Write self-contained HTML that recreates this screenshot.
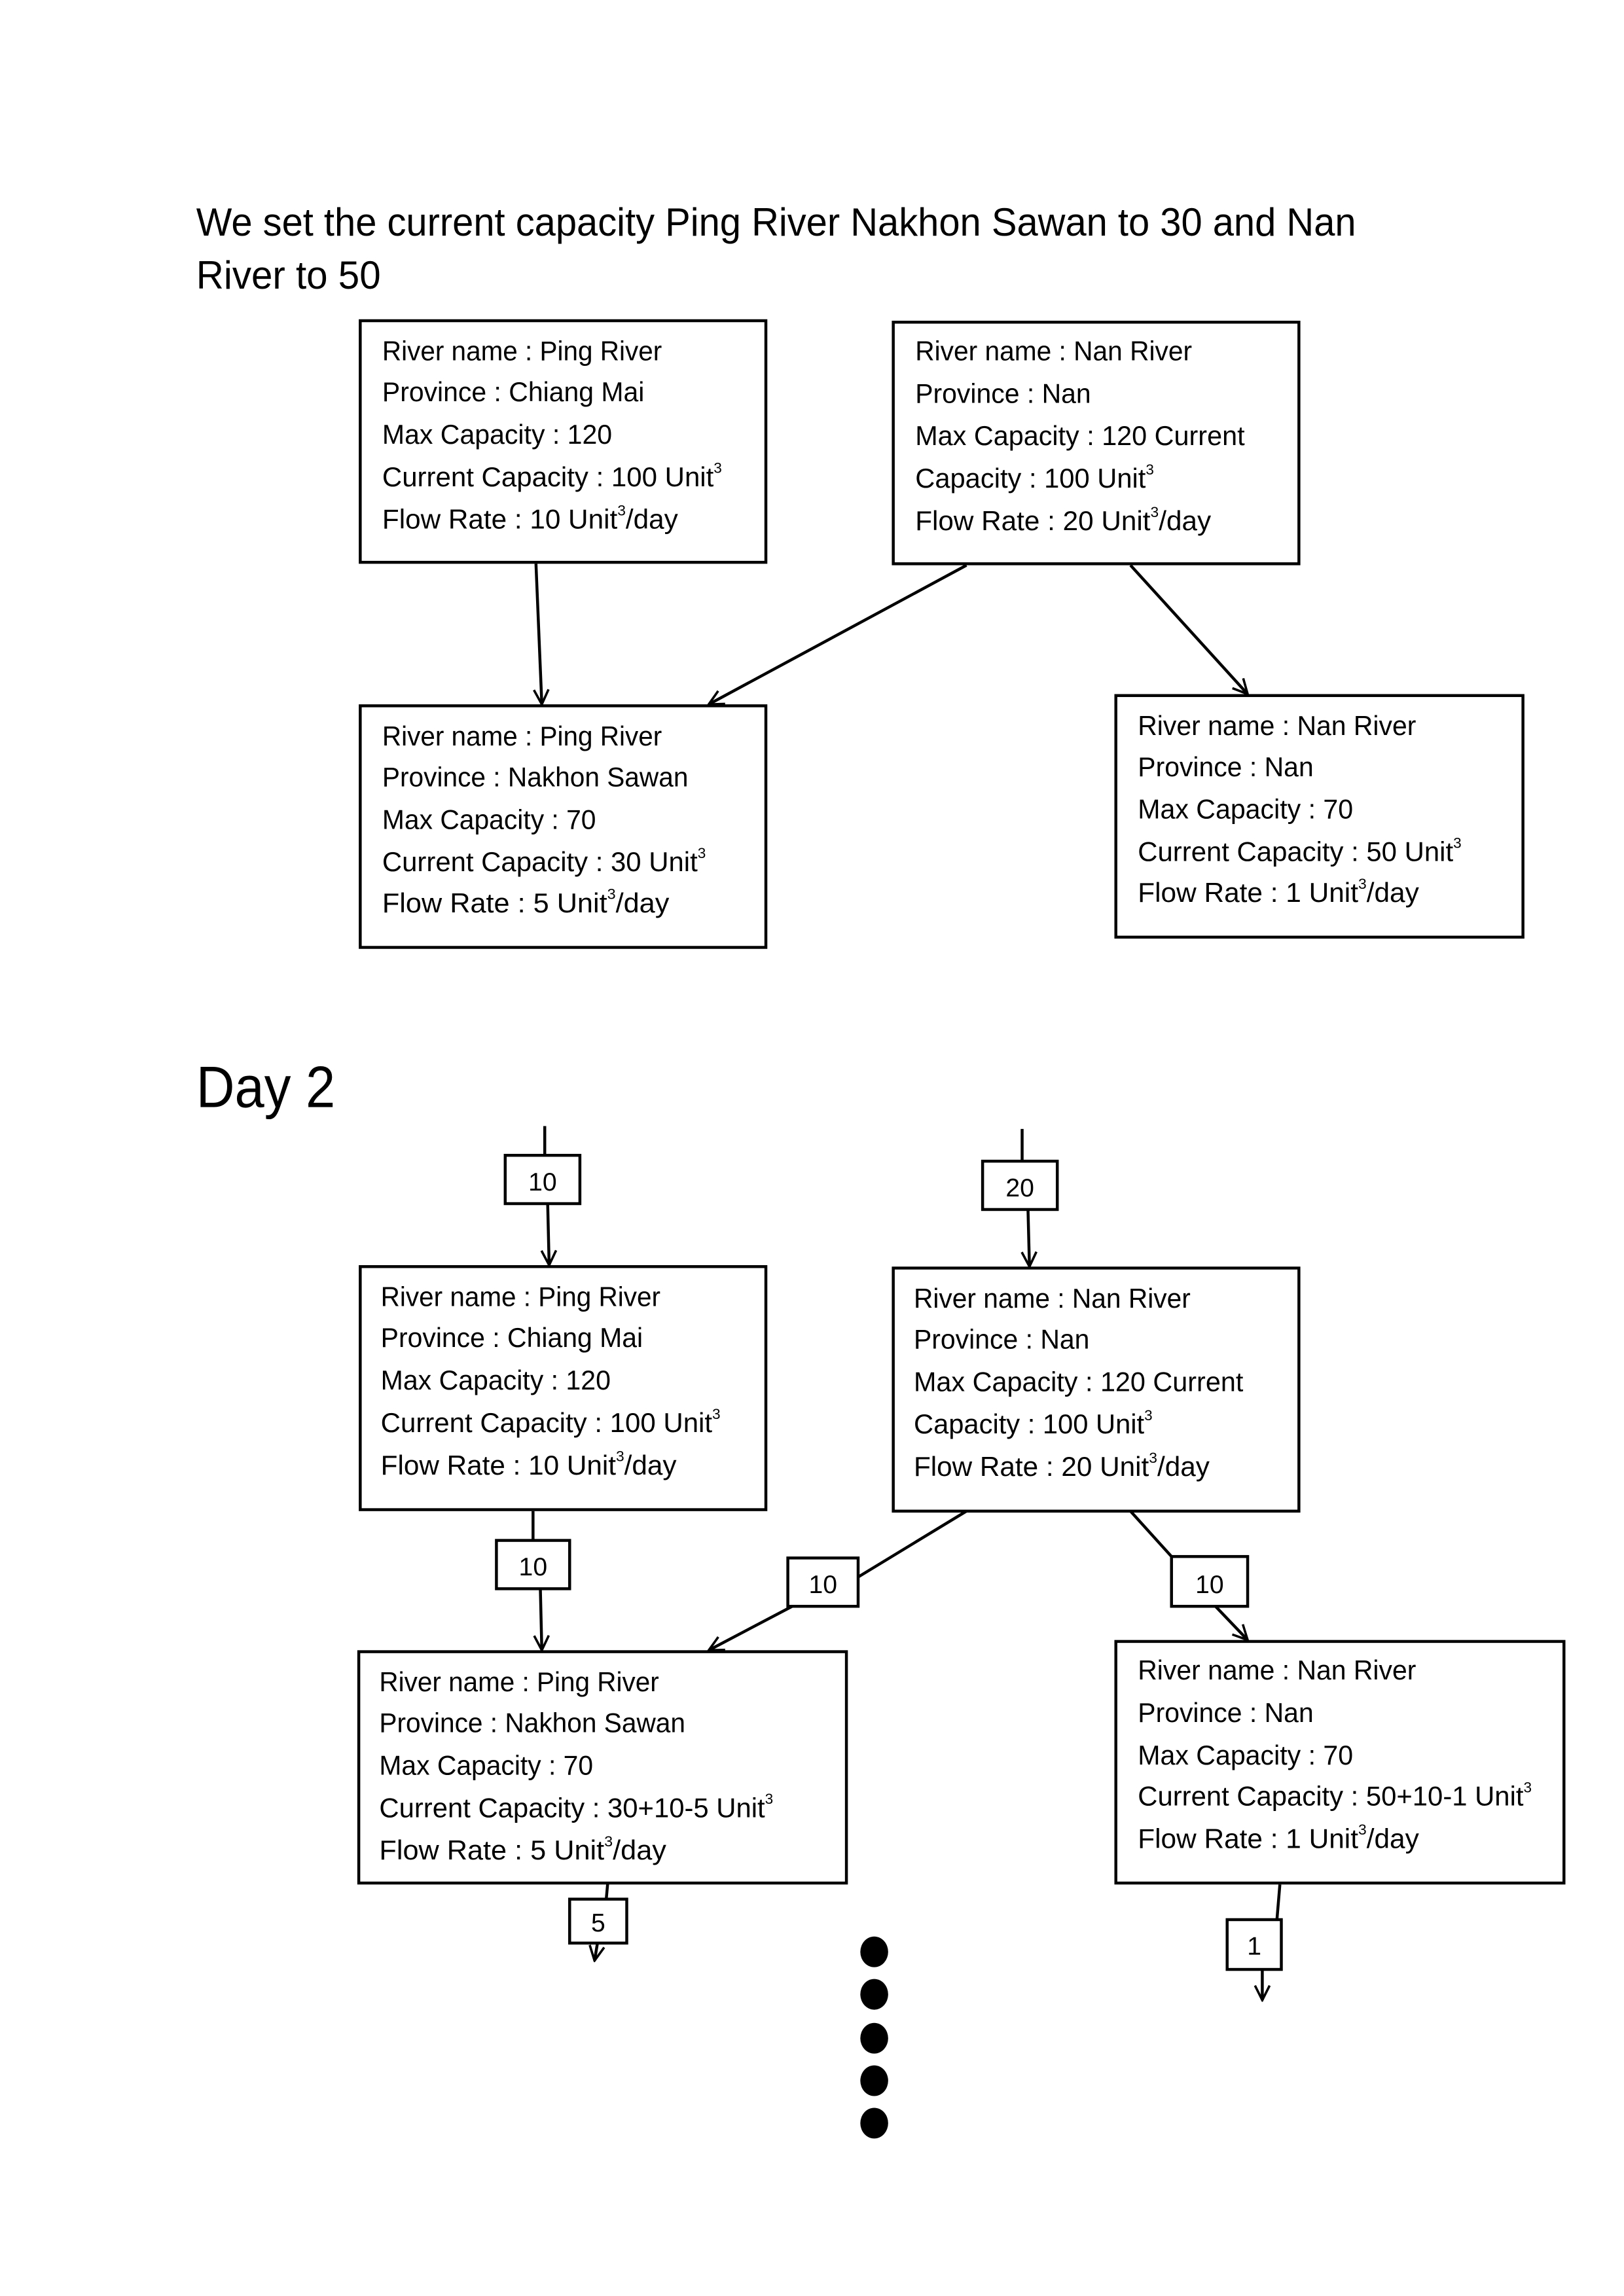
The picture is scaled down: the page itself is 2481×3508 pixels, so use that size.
<!DOCTYPE html>
<html><head><meta charset="utf-8"><style>
html,body{margin:0;padding:0;background:#fff;width:2481px;height:3508px;overflow:hidden}
svg{display:block}
text{font-family:"Liberation Sans",sans-serif;fill:#000}
.b{font-size:18.5px}
.l{font-size:17.5px}
</style></head><body>
<svg width="2481" height="3508" viewBox="0 0 1109 1568" xmlns="http://www.w3.org/2000/svg">
<defs>
<marker id="a" viewBox="0 0 12 12" refX="11" refY="6" markerWidth="12" markerHeight="12" markerUnits="userSpaceOnUse" orient="auto">
<path d="M1,1 L11,6 L1,11" fill="none" stroke="#000" stroke-width="1.6"/>
</marker>
</defs>
<rect width="1109" height="1568" fill="#fff"/>
<text x="134" y="161" font-size="27" textLength="792" lengthAdjust="spacingAndGlyphs">We set the current capacity Ping River Nakhon Sawan to 30 and Nan</text>
<text x="134" y="197" font-size="27" textLength="126" lengthAdjust="spacingAndGlyphs">River to 50</text>

<g fill="none" stroke="#000" stroke-width="2">
<rect x="246" y="219" width="277" height="165"/>
<rect x="610" y="220" width="277" height="165"/>
<rect x="246" y="482" width="277" height="165"/>
<rect x="762" y="475" width="278" height="165"/>
<line x1="366" y1="385" x2="370" y2="481" marker-end="url(#a)"/>
<line x1="660" y1="386" x2="484" y2="481" marker-end="url(#a)"/>
<line x1="772" y1="386" x2="852" y2="474" marker-end="url(#a)"/>

<rect x="246" y="865" width="277" height="166"/>
<rect x="610" y="866" width="277" height="166"/>
<rect x="245" y="1128" width="333" height="158"/>
<rect x="762" y="1121" width="306" height="165"/>

<rect x="345" y="789" width="51" height="33"/>
<line x1="372" y1="769" x2="372" y2="789"/>
<line x1="374" y1="822" x2="375" y2="864" marker-end="url(#a)"/>
<rect x="671" y="793" width="51" height="33"/>
<line x1="698" y1="771" x2="698" y2="793"/>
<line x1="702" y1="826" x2="703" y2="865" marker-end="url(#a)"/>
<rect x="339" y="1052" width="50" height="33"/>
<line x1="364" y1="1032" x2="364" y2="1052"/>
<line x1="369" y1="1085" x2="370" y2="1127" marker-end="url(#a)"/>
<rect x="538" y="1064" width="48" height="33"/>
<line x1="660" y1="1032" x2="586" y2="1077"/>
<line x1="541" y1="1097" x2="484" y2="1127" marker-end="url(#a)"/>
<rect x="800" y="1063" width="52" height="34"/>
<line x1="772" y1="1032" x2="800" y2="1063"/>
<line x1="830" y1="1097" x2="852" y2="1120" marker-end="url(#a)"/>
<rect x="389" y="1297" width="39" height="30"/>
<line x1="415" y1="1286" x2="414" y2="1297"/>
<line x1="408" y1="1327" x2="406" y2="1339" marker-end="url(#a)"/>
<rect x="838" y="1311" width="37" height="34"/>
<line x1="874" y1="1287" x2="872" y2="1311"/>
<line x1="862" y1="1345" x2="862" y2="1366" marker-end="url(#a)"/>
</g>

<g class="b">
<text x="261" y="246" textLength="191" lengthAdjust="spacingAndGlyphs">River name : Ping River</text>
<text x="261" y="274" textLength="179" lengthAdjust="spacingAndGlyphs">Province : Chiang Mai</text>
<text x="261" y="303" textLength="157" lengthAdjust="spacingAndGlyphs">Max Capacity : 120</text>
<text x="261" y="332" textLength="232" lengthAdjust="spacingAndGlyphs">Current Capacity : 100 Unit<tspan font-size="10" dy="-9">3</tspan></text>
<text x="261" y="361" textLength="202" lengthAdjust="spacingAndGlyphs">Flow Rate : 10 Unit<tspan font-size="10" dy="-9">3</tspan><tspan dy="9">/day</tspan></text>

<text x="625" y="246" textLength="189" lengthAdjust="spacingAndGlyphs">River name : Nan River</text>
<text x="625" y="275" textLength="120" lengthAdjust="spacingAndGlyphs">Province : Nan</text>
<text x="625" y="304" textLength="225" lengthAdjust="spacingAndGlyphs">Max Capacity : 120 Current</text>
<text x="625" y="333" textLength="163" lengthAdjust="spacingAndGlyphs">Capacity : 100 Unit<tspan font-size="10" dy="-9">3</tspan></text>
<text x="625" y="362" textLength="202" lengthAdjust="spacingAndGlyphs">Flow Rate : 20 Unit<tspan font-size="10" dy="-9">3</tspan><tspan dy="9">/day</tspan></text>

<text x="261" y="509" textLength="191" lengthAdjust="spacingAndGlyphs">River name : Ping River</text>
<text x="261" y="537" textLength="209" lengthAdjust="spacingAndGlyphs">Province : Nakhon Sawan</text>
<text x="261" y="566" textLength="146" lengthAdjust="spacingAndGlyphs">Max Capacity : 70</text>
<text x="261" y="595" textLength="221" lengthAdjust="spacingAndGlyphs">Current Capacity : 30 Unit<tspan font-size="10" dy="-9">3</tspan></text>
<text x="261" y="623" textLength="196" lengthAdjust="spacingAndGlyphs">Flow Rate :  5 Unit<tspan font-size="10" dy="-9">3</tspan><tspan dy="9">/day</tspan></text>

<text x="777" y="502" textLength="190" lengthAdjust="spacingAndGlyphs">River name : Nan River</text>
<text x="777" y="530" textLength="120" lengthAdjust="spacingAndGlyphs">Province : Nan</text>
<text x="777" y="559" textLength="147" lengthAdjust="spacingAndGlyphs">Max Capacity : 70</text>
<text x="777" y="588" textLength="221" lengthAdjust="spacingAndGlyphs">Current Capacity : 50 Unit<tspan font-size="10" dy="-9">3</tspan></text>
<text x="777" y="616" textLength="192" lengthAdjust="spacingAndGlyphs">Flow Rate : 1 Unit<tspan font-size="10" dy="-9">3</tspan><tspan dy="9">/day</tspan></text>

<text x="260" y="892" textLength="191" lengthAdjust="spacingAndGlyphs">River name : Ping River</text>
<text x="260" y="920" textLength="179" lengthAdjust="spacingAndGlyphs">Province : Chiang Mai</text>
<text x="260" y="949" textLength="157" lengthAdjust="spacingAndGlyphs">Max Capacity : 120</text>
<text x="260" y="978" textLength="232" lengthAdjust="spacingAndGlyphs">Current Capacity : 100 Unit<tspan font-size="10" dy="-9">3</tspan></text>
<text x="260" y="1007" textLength="202" lengthAdjust="spacingAndGlyphs">Flow Rate : 10 Unit<tspan font-size="10" dy="-9">3</tspan><tspan dy="9">/day</tspan></text>

<text x="624" y="893" textLength="189" lengthAdjust="spacingAndGlyphs">River name : Nan River</text>
<text x="624" y="921" textLength="120" lengthAdjust="spacingAndGlyphs">Province : Nan</text>
<text x="624" y="950" textLength="225" lengthAdjust="spacingAndGlyphs">Max Capacity : 120 Current</text>
<text x="624" y="979" textLength="163" lengthAdjust="spacingAndGlyphs">Capacity : 100 Unit<tspan font-size="10" dy="-9">3</tspan></text>
<text x="624" y="1008" textLength="202" lengthAdjust="spacingAndGlyphs">Flow Rate : 20 Unit<tspan font-size="10" dy="-9">3</tspan><tspan dy="9">/day</tspan></text>

<text x="259" y="1155" textLength="191" lengthAdjust="spacingAndGlyphs">River name : Ping River</text>
<text x="259" y="1183" textLength="209" lengthAdjust="spacingAndGlyphs">Province : Nakhon Sawan</text>
<text x="259" y="1212" textLength="146" lengthAdjust="spacingAndGlyphs">Max Capacity : 70</text>
<text x="259" y="1241" textLength="269" lengthAdjust="spacingAndGlyphs">Current Capacity : 30+10-5 Unit<tspan font-size="10" dy="-9">3</tspan></text>
<text x="259" y="1270" textLength="196" lengthAdjust="spacingAndGlyphs">Flow Rate :  5 Unit<tspan font-size="10" dy="-9">3</tspan><tspan dy="9">/day</tspan></text>

<text x="777" y="1147" textLength="190" lengthAdjust="spacingAndGlyphs">River name : Nan River</text>
<text x="777" y="1176" textLength="120" lengthAdjust="spacingAndGlyphs">Province : Nan</text>
<text x="777" y="1205" textLength="147" lengthAdjust="spacingAndGlyphs">Max Capacity : 70</text>
<text x="777" y="1233" textLength="269" lengthAdjust="spacingAndGlyphs">Current Capacity : 50+10-1 Unit<tspan font-size="10" dy="-9">3</tspan></text>
<text x="777" y="1262" textLength="192" lengthAdjust="spacingAndGlyphs">Flow Rate : 1 Unit<tspan font-size="10" dy="-9">3</tspan><tspan dy="9">/day</tspan></text>
</g>

<text x="134" y="756" font-size="40" textLength="95" lengthAdjust="spacingAndGlyphs">Day 2</text>

<g class="l" text-anchor="middle">
<text x="370.5" y="813">10</text>
<text x="696.5" y="817">20</text>
<text x="364" y="1076">10</text>
<text x="562" y="1088">10</text>
<text x="826" y="1088">10</text>
<text x="408.5" y="1319">5</text>
<text x="856.5" y="1335">1</text>
</g>

<g fill="#000">
<ellipse cx="597" cy="1333" rx="9.5" ry="10.5"/>
<ellipse cx="597" cy="1362" rx="9.5" ry="10.5"/>
<ellipse cx="597" cy="1392" rx="9.5" ry="10.5"/>
<ellipse cx="597" cy="1421" rx="9.5" ry="10.5"/>
<ellipse cx="597" cy="1450" rx="9.5" ry="10.5"/>
</g>
</svg>
</body></html>
